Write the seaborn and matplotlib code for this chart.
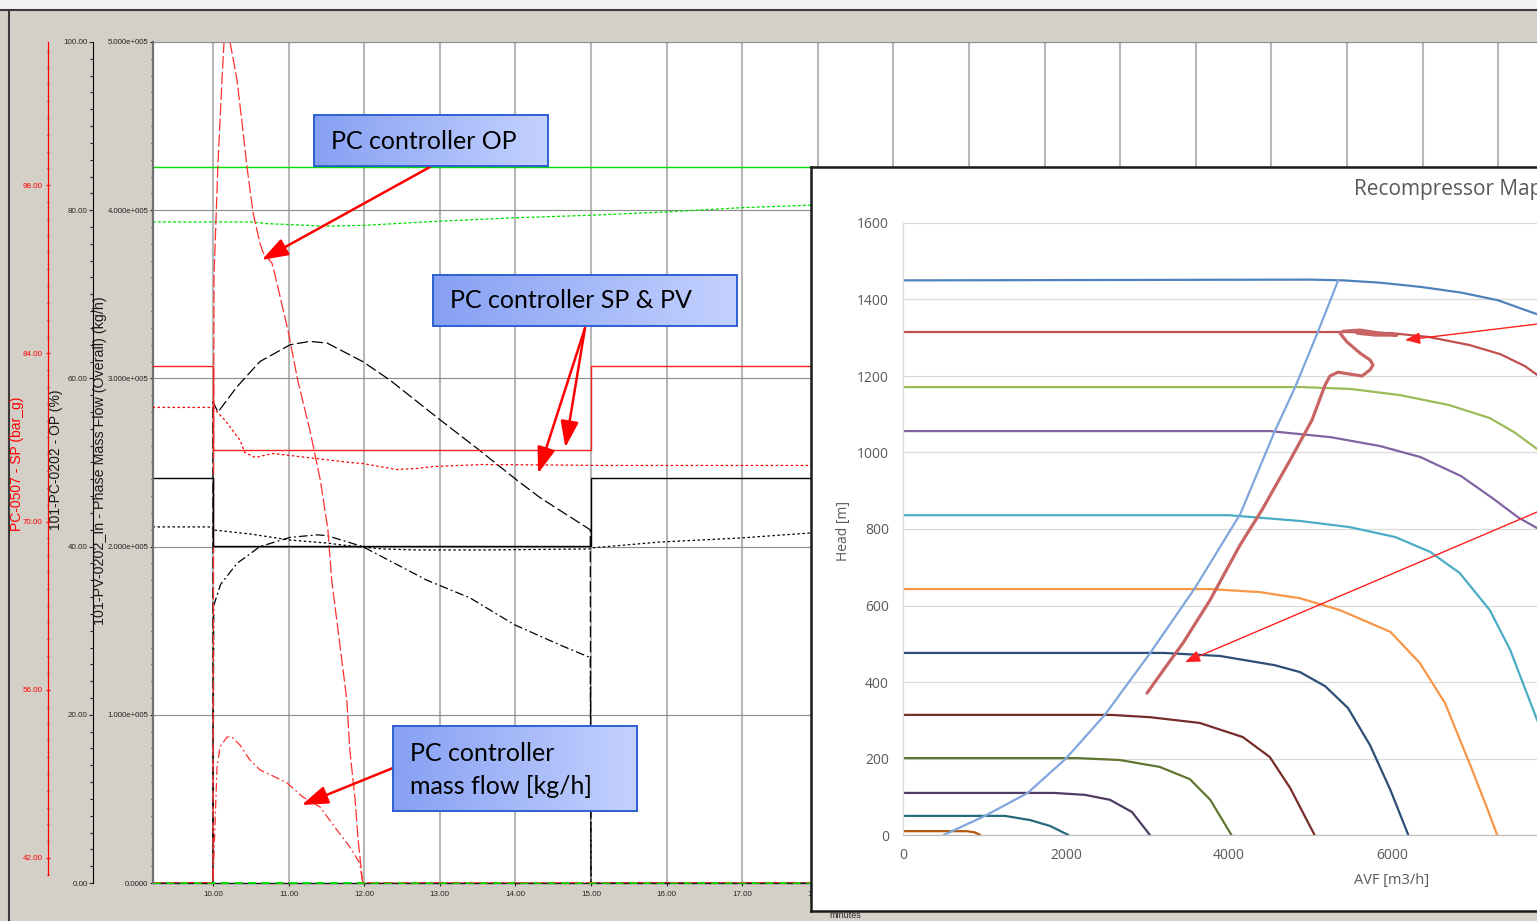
import numpy as np
import pandas as pd
import matplotlib
matplotlib.use("Agg")
import matplotlib.pyplot as plt
import seaborn as sns
from matplotlib.colors import LinearSegmentedColormap
from matplotlib.lines import Line2D
from matplotlib.patches import Rectangle
from matplotlib.ticker import FixedLocator, FuncFormatter, MultipleLocator

# ---------------- trend data (time in minutes) ----------------
# PC controller output (%)
OP_T = [9.2, 10.0, 10.013, 10.066, 10.119, 10.146, 10.185, 10.225, 10.317, 10.384,
        10.45, 10.53, 10.62, 10.66, 10.78, 10.82, 10.99, 11.12, 11.28, 11.42,
        11.52, 11.57, 11.77, 11.81, 11.88, 11.92, 11.98, 19.0]
OP_PCT = [0, 0, 72.1, 85.6, 95.5, 100.0, 104.0, 100.0, 95.5, 90.4,
          85.1, 79.7, 76.1, 75.0, 73.7, 72.3, 65.8, 59.8, 53.9, 47.9,
          42.0, 36.0, 21.8, 15.8, 9.9, 5.1, 0.0, 0.0]

# PC controller mass flow (kg/h)
MF_T = [9.2, 10.0, 10.053, 10.093, 10.185, 10.251, 10.357, 10.489, 10.622, 10.794,
        10.979, 11.19, 11.415, 11.64, 11.81, 11.94, 11.98, 19.0]
MF_KGH = [0, 0, 69000, 80900, 86800, 86800, 82000, 73100, 67200, 63600,
          59500, 51100, 45200, 31500, 21400, 11900, 0, 0]

# PC-0507 set point and process value (bar_g)
SP_T = [9.2, 10.0, 10.0, 15.0, 15.0, 27.6]
SP_BARG = [82.92, 82.92, 75.92, 75.92, 82.92, 82.92]
PV_T = [9.2, 10.0, 10.16, 10.36, 10.42, 10.56, 10.79, 11.02, 11.81, 11.98,
        12.43, 12.70, 12.91, 13.57, 15.25, 19.0]
PV_BARG = [79.5, 79.5, 78.42, 76.75, 75.75, 75.33, 75.67, 75.5, 74.92, 74.83,
           74.33, 74.42, 74.58, 74.75, 74.67, 74.67]

# inlet mass flow set point / measurement (kg/h)
FLOW_SP_T = [9.2, 10.0, 10.0, 15.0, 15.0, 19.0]
FLOW_SP_KGH = [240800, 240800, 200400, 200400, 240800, 240800]
FLOW_PV_T = [9.2, 10.0, 10.0, 10.49, 11.02, 11.51, 11.81, 12.25, 12.70, 13.57,
             14.99, 15.0, 15.91, 16.97, 17.9, 19.0]
FLOW_PV_KGH = [211700, 211700, 209900, 207500, 203900, 202100, 200400, 198600, 198000, 198000,
               198600, 199200, 202700, 205100, 208100, 209500]

# other controller outputs (%)
DASH_T = [9.2, 10.0, 10.0, 10.066, 10.317, 10.62, 11.02, 11.28, 11.51, 11.98,
          12.34, 13.0, 13.49, 14.02, 14.33, 14.99, 15.0, 19.0]
DASH_PCT = [0, 0, 57.2, 56.0, 59.0, 62.0, 64.0, 64.4, 64.2, 62.0,
            59.8, 55.1, 51.7, 47.9, 45.8, 42.0, 0, 0]
DD_T = [9.2, 10.0, 10.01, 10.1, 10.317, 10.62, 11.02, 11.38, 11.51, 11.98,
        12.83, 13.40, 13.99, 14.59, 14.99, 15.0, 19.0]
DD_PCT = [0, 0, 33.0, 35.5, 38.0, 40.0, 41.1, 41.4, 41.3, 40.0,
          36.0, 33.9, 30.7, 28.3, 26.8, 0, 0]
GREEN_T = [9.2, 27.6]
GREEN_PCT = [85.1, 85.1]
GREEN_DOT_T = [9.2, 10.0, 10.5, 10.72, 11.5, 12.0, 13.0, 14.0, 15.0, 16.0, 17.0, 17.9, 19.0]
GREEN_DOT_PCT = [78.6, 78.6, 78.6, 78.4, 78.1, 78.2, 78.7, 79.1, 79.4, 79.8, 80.3, 80.6, 80.7]
ZERO_T = [9.2, 19.0]
ZERO_PCT = [0, 0]

X_TICKS = list(range(10, 28))
PCT_TICKS = [0, 20, 40, 60, 80, 100]
FLOW_TICKS = [0, 100000, 200000, 300000, 400000, 500000]
RED_TICKS = [42, 56, 70, 84, 98]

# ---------------- compressor map data ----------------
SL_AVF = [
    [0, 5000, 5400, 5850, 6350, 6850, 7300, 7800, 8000],
    [0, 5500, 6000, 6450, 6950, 7330, 7630, 7800, 8000],
    [0, 4900, 5500, 6100, 6700, 7200, 7500, 7800, 8000],
    [0, 4500, 5250, 5850, 6350, 6850, 7250, 7550, 7800, 8000],
    [0, 4000, 4870, 5480, 6040, 6470, 6830, 7200, 7450, 7630, 7800],
    [0, 3770, 4380, 4870, 5360, 5980, 6340, 6650, 6960, 7200, 7290],
    [0, 3200, 3890, 4560, 4870, 5180, 5460, 5730, 5980, 6200],
    [0, 2550, 3030, 3640, 4170, 4500, 4750, 5050],
    [0, 2150, 2660, 3150, 3520, 3770, 4030],
    [0, 1850, 2230, 2540, 2810, 3030],
    [0, 1250, 1560, 1800, 2030],
    [0, 780, 880, 950],
]
SL_HEAD = [
    [1450, 1452, 1450, 1444, 1433, 1418, 1398, 1360, 1340],
    [1315, 1315, 1312, 1302, 1281, 1257, 1226, 1200, 1170],
    [1171, 1171, 1166, 1150, 1124, 1090, 1053, 1006, 960],
    [1056, 1056, 1040, 1017, 988, 938, 878, 830, 800, 770],
    [836, 836, 821, 805, 779, 740, 685, 588, 484, 384, 290],
    [643, 643, 635, 619, 588, 531, 450, 345, 183, 52, 0],
    [476, 476, 468, 444, 426, 389, 332, 235, 118, 0],
    [314, 314, 308, 293, 256, 204, 123, 0],
    [201, 201, 196, 178, 146, 92, 0],
    [110, 110, 105, 92, 60, 0],
    [50, 50, 39, 24, 0],
    [10, 10, 7, 0],
]
SL_COLORS = ["#4f81bd", "#c0504d", "#9bbb59", "#8064a2", "#4bacc6", "#f79646",
             "#2c4d75", "#772c2a", "#5f7530", "#4d3b62", "#276a7c", "#b65708"]

SURGE_AVF = [500, 1006, 1530, 2000, 2480, 3030, 3580, 4140, 4560, 4810, 5090, 5340]
SURGE_HEAD = [0, 50, 110, 200, 315, 475, 645, 840, 1055, 1170, 1315, 1450]

TRAJ_AVF = [2994, 3215, 3436, 3767, 4135, 4405, 4749, 5019, 5178, 5239, 5337, 5632,
            5730, 5767, 5730, 5607, 5448, 5362, 5399, 5607, 5853, 6062, 5792, 5571]
TRAJ_HEAD = [371, 437, 502, 614, 758, 850, 980, 1085, 1176, 1200, 1210, 1200,
             1216, 1229, 1242, 1260, 1289, 1312, 1317, 1320, 1312, 1307, 1307, 1312]

MAP_XTICKS = [0, 2000, 4000, 6000]
MAP_YTICKS = list(range(0, 1601, 200))

# ---------------- figure ----------------
sns.set_style("white")
plt.rcParams["font.family"] = ["Liberation Sans", "DejaVu Sans"]

W, H = 1537, 921
fig = plt.figure(figsize=(W / 100, H / 100), dpi=100, facecolor="#d4d0c8")


def fx(px):
    return px / W


def fy(py):
    return 1.0 - py / H


def box_rect(x0, y0, x1, y1):
    return [fx(x0), fy(y1), (x1 - x0) / W, (y1 - y0) / H]


PX_PER_MIN = 75.6
T_LO = 10 - (213 - 153) / PX_PER_MIN
T_HI = 10 + (1537 - 213) / PX_PER_MIN
RED_LO = 42 - 25 / 12.0
RED_HI = 98 + 143 / 12.0
RED_AXIS_END = 42 - 17 / 12.0

# window frame
fig.add_artist(Rectangle((0, fy(10)), 1, 10 / H, transform=fig.transFigure,
                         facecolor="#f2f2f2", edgecolor="none", zorder=-1))
fig.add_artist(Line2D([0, 1], [fy(10.5)] * 2, transform=fig.transFigure, color="#3a3a3a",
                      lw=1.5, zorder=-1))
fig.add_artist(Line2D([fx(8.5)] * 2, [0, fy(10)], transform=fig.transFigure, color="#3a3a3a",
                      lw=1.5, zorder=-1))

# ---------------- trend axes ----------------
ax = fig.add_axes(box_rect(153, 42, 1537, 883))
ax.set_facecolor("white")
ax_flow = ax.twinx()
ax_red = ax.twinx()


def trend(axis, t, v, color, ls, lw=0.9, z=2, clip=True):
    sns.lineplot(x=t, y=v, ax=axis, color=color, linestyle=ls, linewidth=lw,
                 estimator=None, sort=False, legend=False, zorder=z, clip_on=clip)


trend(ax, GREEN_T, GREEN_PCT, "#00e000", "-", 1.0)
trend(ax, GREEN_DOT_T, GREEN_DOT_PCT, "#00e000", (0, (2.5, 1.6)))
trend(ax, ZERO_T, ZERO_PCT, "#00e000", (0, (4, 3)), 1.4, 3, False)
trend(ax, DASH_T, DASH_PCT, "#000000", (0, (9, 3)))
trend(ax, DD_T, DD_PCT, "#000000", (0, (7, 2.5, 1.5, 2.5)))
trend(ax, OP_T, OP_PCT, "#ff3030", (0, (10, 2.5)))
trend(ax_flow, FLOW_SP_T, FLOW_SP_KGH, "#000000", "-", 1.0)
trend(ax_flow, FLOW_PV_T, FLOW_PV_KGH, "#000000", (0, (2, 2)))
trend(ax_flow, MF_T, MF_KGH, "#ff3030", (0, (7, 2.5, 1.5, 2.5)))
trend(ax_red, SP_T, SP_BARG, "#ff2020", "-", 1.0)
trend(ax_red, PV_T, PV_BARG, "#ff0000", (0, (2, 2)))

ax.set_xlim(T_LO, T_HI)
ax.set_ylim(0, 100)
ax_flow.set_ylim(0, 500000)
ax_red.set_ylim(RED_LO, RED_HI)

for a in (ax, ax_flow, ax_red):
    for s in a.spines.values():
        s.set_visible(False)

ax.spines["left"].set_visible(True)
ax.spines["left"].set_position(("outward", 43.2))
ax.spines["left"].set_color("#000000")
ax.spines["left"].set_linewidth(0.8)
ax.spines["bottom"].set_visible(True)
ax.spines["bottom"].set_color("#202020")
ax.spines["bottom"].set_linewidth(1.0)
ax.spines["top"].set_visible(True)
ax.spines["top"].set_color("#909090")

ax.grid(axis="x", color="#b7b7b7", lw=1.5)
ax.grid(axis="y", color="#8c8c8c", lw=0.8)
ax.set_axisbelow(True)

ax.xaxis.set_major_locator(FixedLocator(X_TICKS))
ax.xaxis.set_major_formatter(FuncFormatter(lambda v, p: f"{v:.2f}"))
ax.tick_params(axis="x", bottom=True, direction="out", length=2.5, width=0.8,
               labelsize=5.8, pad=3)

ax.yaxis.set_major_locator(FixedLocator(PCT_TICKS))
ax.yaxis.set_minor_locator(MultipleLocator(2))
ax.yaxis.set_major_formatter(FuncFormatter(lambda v, p: f"{v:.2f}"))
ax.tick_params(axis="y", which="both", left=True, right=False, direction="out",
               width=0.8, labelsize=5.8, pad=0.8)
ax.tick_params(axis="y", which="major", length=2.9)
ax.tick_params(axis="y", which="minor", length=2.0)


def sci_label(v, pos):
    if v == 0:
        return "0.0000"
    e = int(np.floor(np.log10(v) + 1e-9))
    return f"{v / 10 ** e:.3f}e+{e:03d}"


ax_flow.yaxis.tick_left()
ax_flow.yaxis.set_label_position("left")
ax_flow.spines["left"].set_visible(True)
ax_flow.spines["left"].set_color("#707070")
ax_flow.spines["left"].set_linewidth(1.6)
ax_flow.yaxis.set_major_locator(FixedLocator(FLOW_TICKS))
ax_flow.yaxis.set_minor_locator(MultipleLocator(10000))
ax_flow.yaxis.set_major_formatter(FuncFormatter(sci_label))
ax_flow.tick_params(axis="y", which="both", left=True, right=False, direction="out",
                    colors="#222222", width=0.8, labelsize=5.6, pad=1.1)
ax_flow.tick_params(axis="y", which="major", length=2.2)
ax_flow.tick_params(axis="y", which="minor", length=1.2)

ax_red.yaxis.tick_left()
ax_red.yaxis.set_label_position("left")
ax_red.spines["left"].set_visible(True)
ax_red.spines["left"].set_position(("outward", 75.6))
ax_red.spines["left"].set_color("#ff0000")
ax_red.spines["left"].set_linewidth(0.9)
ax_red.spines["left"].set_bounds(RED_AXIS_END, RED_HI)
ax_red.yaxis.set_major_locator(FixedLocator(RED_TICKS))
ax_red.yaxis.set_minor_locator(FixedLocator(list(np.round(42 + 1.4 * np.arange(-1, 49), 2))))
ax_red.yaxis.set_major_formatter(FuncFormatter(lambda v, p: f"{v:.2f}"))
ax_red.tick_params(axis="y", which="both", left=True, right=False, direction="inout",
                   colors="#ff0000", width=0.8, labelsize=5.8, pad=2.5)
ax_red.tick_params(axis="y", which="major", length=2.4)
ax_red.tick_params(axis="y", which="minor", length=1.4)

ax.set_ylabel("101-PC-0202 - OP (%)", fontsize=10, color="#1a1a1a")
ax.yaxis.label.set_va("center")
ax.yaxis.set_label_coords((56 - 153) / 1384, 0.503)
ax_flow.set_ylabel("101-PV-0202_In - Phase Mass Flow (Overall) (kg/h)", fontsize=10.3,
                   color="#1a1a1a")
ax_flow.yaxis.label.set_va("center")
ax_flow.yaxis.set_label_coords((100 - 153) / 1384, 0.502)
ax_red.set_ylabel("PC-0507 - SP (bar_g)", fontsize=10, color="#ff0000")
ax_red.yaxis.label.set_va("center")
ax_red.yaxis.set_label_coords((17 - 153) / 1384, 0.499)
ax.set_xlabel("")

fig.text(fx(829), fy(915), "minutes", fontsize=6.5, ha="left", va="center", zorder=1)

# ---------------- callouts ----------------
CALLOUT_CMAP = LinearSegmentedColormap.from_list("callout", ["#86a0f3", "#c4d2ff"])


def callout(x0, y0, x1, y1, lines, ys):
    cax = fig.add_axes(box_rect(x0, y0, x1, y1), zorder=3)
    cax.imshow(np.linspace(0, 1, 256)[None, :], aspect="auto", cmap=CALLOUT_CMAP,
               extent=(0, 1, 0, 1))
    cax.set_xticks([])
    cax.set_yticks([])
    for s in cax.spines.values():
        s.set_visible(True)
        s.set_color("#2f5fd3")
        s.set_linewidth(1.4)
    for txt, yy in zip(lines, ys):
        fig.text(fx(x0 + 17), fy(yy), txt, fontsize=18, family="Lato", color="#000000",
                 ha="left", va="center", zorder=4)


callout(314, 115, 548, 166, ["PC controller OP"], [141])
callout(433, 275, 737, 326, ["PC controller SP & PV"], [301])
callout(393, 726, 637, 811, ["PC controller", "mass flow [kg/h]"], [753, 786])

ARROW = dict(arrowstyle="-|>,head_length=1.6,head_width=0.55", color="#ff0000", lw=1.8,
             shrinkA=0, shrinkB=0, mutation_scale=10)
ax.annotate("", xy=(10.644, 74.08), xycoords="data", xytext=(fx(430), fy(167)),
            textcoords="figure fraction", arrowprops=ARROW)
ax_red.annotate("", xy=(14.30, 74.0), xycoords="data", xytext=(fx(585), fy(328)),
                textcoords="figure fraction", arrowprops=ARROW)
ax_red.annotate("", xy=(14.66, 76.17), xycoords="data", xytext=(fx(585), fy(328)),
                textcoords="figure fraction", arrowprops=ARROW)
ax_flow.annotate("", xy=(11.173, 46370), xycoords="data", xytext=(fx(393), fy(768)),
                 textcoords="figure fraction", arrowprops=ARROW)

# ---------------- compressor map inset ----------------
inset_bg = fig.add_axes(box_rect(811, 167, 1560, 911), zorder=5)
inset_bg.set_facecolor("white")
inset_bg.set_xticks([])
inset_bg.set_yticks([])
for s in inset_bg.spines.values():
    s.set_visible(True)
    s.set_color("#1a1a1a")
    s.set_linewidth(1.8)

ax_map = fig.add_axes(box_rect(903, 223, 1537, 835), zorder=6)
ax_map.set_facecolor("white")
MAP_XMAX = (1537 - 903) * 2000 / 163.0

names = [f"N{i + 1}" for i in range(len(SL_AVF))]
df_map = pd.DataFrame(
    [{"line": n, "avf": a, "head": h}
     for n, avf, head in zip(names, SL_AVF, SL_HEAD) for a, h in zip(avf, head)]
)
sns.lineplot(data=df_map, x="avf", y="head", hue="line", hue_order=names,
             palette=dict(zip(names, SL_COLORS)), estimator=None, sort=False,
             legend=False, lw=1.6, ax=ax_map)
sns.lineplot(x=SURGE_AVF, y=SURGE_HEAD, color="#7fa6dd", lw=1.6, estimator=None,
             sort=False, legend=False, ax=ax_map)
sns.lineplot(x=TRAJ_AVF, y=TRAJ_HEAD, color="#c96464", lw=2.3, estimator=None,
             sort=False, legend=False, ax=ax_map)

ax_map.set_xlim(0, MAP_XMAX)
ax_map.set_ylim(0, 1600)
tick_font = dict(fontsize=10, color="#595959", fontfamily="Open Sans")
ax_map.set_xticks(MAP_XTICKS, labels=[str(v) for v in MAP_XTICKS], **tick_font)
ax_map.set_yticks(MAP_YTICKS, labels=[str(v) for v in MAP_YTICKS], **tick_font)
ax_map.tick_params(axis="x", length=0, pad=9, bottom=True)
ax_map.tick_params(axis="y", length=0, pad=10, left=True)
ax_map.grid(axis="y", color="#d9d9d9", lw=0.9)
ax_map.grid(axis="x", visible=False)
ax_map.set_axisbelow(True)
for side in ("top", "right"):
    ax_map.spines[side].set_visible(False)
ax_map.spines["left"].set_color("#d9d9d9")
ax_map.spines["left"].set_linewidth(0.9)
ax_map.spines["bottom"].set_color("#bfbfbf")
ax_map.spines["bottom"].set_linewidth(0.9)

ax_map.set_xlabel("AVF [m3/h]", fontsize=10.5, color="#595959", fontfamily="Open Sans")
ax_map.xaxis.label.set_va("center")
ax_map.xaxis.set_label_coords((1392 - 903) / 634, (835 - 880) / 612)
ax_map.set_ylabel("Head [m]", fontsize=10, color="#595959", fontfamily="Open Sans")
ax_map.yaxis.label.set_va("center")
ax_map.yaxis.set_label_coords((843 - 903) / 634, (835 - 531) / 612)

fig.text(fx(1354), fy(189), "Recompressor Map", fontsize=15, color="#595959",
         family="Open Sans", ha="left", va="center", zorder=10)

MAP_ARROW = dict(arrowstyle="-|>,head_length=0.9,head_width=0.35", color="#ff2020", lw=1.0,
                 shrinkA=0, shrinkB=0, mutation_scale=10)
ax_map.annotate("", xy=(6160, 1294), xytext=(8062, 1343), arrowprops=MAP_ARROW,
                annotation_clip=False)
ax_map.annotate("", xy=(3460, 452), xytext=(8062, 870), arrowprops=MAP_ARROW,
                annotation_clip=False)

fig.savefig("out.png", dpi=100, facecolor=fig.get_facecolor())
